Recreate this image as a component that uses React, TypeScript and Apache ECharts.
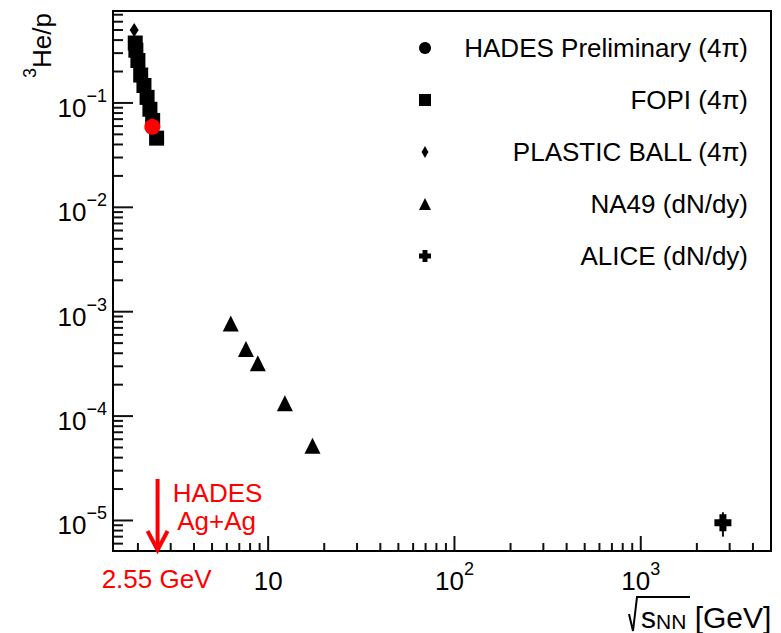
import React, { useEffect, useRef } from 'react';
import * as echarts from 'echarts';

const FONT = '"Liberation Sans", Arial, Helvetica, sans-serif';
const RED = '#ff0000';
const INK = '#111111';

// axis ranges
const X_MIN = 1.47;
const X_MAX = 5000;
const Y_MIN = 5.1e-6;
const Y_MAX = 0.76;

// data (sqrt(s_NN) in GeV, 3He/p ratio)
const fopiX = [1.935, 1.95, 2.0, 2.07, 2.155, 2.24, 2.32, 2.40, 2.52];
const fopiY = [0.375, 0.32, 0.255, 0.185, 0.147, 0.113, 0.087, 0.068, 0.046];
const plasticX = [1.91];
const plasticY = [0.5];
const hadesX = [2.39];
const hadesY = [0.059];
const na49X = [6.3, 7.6, 8.8, 12.3, 17.3];
const na49Y = [7.7e-4, 4.4e-4, 3.2e-4, 1.33e-4, 5.2e-5];
const aliceX = [2760];
const aliceY = [9.5e-6];
const aliceLo = [7.0e-6];
const aliceHi = [1.2e-5];

// annotation arrow
const arrowX = [2.55];
const arrowTopY = [2.5e-5];
const arrowLabels = ['HADES', 'Ag+Ag'];
const arrowEnergyLabel = '2.55 GeV';

// ticks
const xMajorTicks = [10, 100, 1000];
const xTickSup = ['', '2', '3'];
const yMajorTicks = [1e-5, 1e-4, 1e-3, 1e-2, 1e-1];
const yTickSup = ['\u22125', '\u22124', '\u22123', '\u22122', '\u22121'];
const minorMultipliers = [2, 3, 4, 5, 6, 7, 8, 9];
const xDecades = [1, 10, 100, 1000];
const yDecades = [1e-6, 1e-5, 1e-4, 1e-3, 1e-2, 1e-1];

const legendNames = [
  'HADES Preliminary (4\u03c0)',
  'FOPI (4\u03c0)',
  'PLASTIC BALL (4\u03c0)',
  'NA49 (dN/dy)',
  'ALICE (dN/dy)',
];

const CROSS = 'path://M5,0H12V5H17V12H12V17H5V12H0V5H5Z';
const DIAMOND = 'path://M4,0L8,7L4,14L0,7Z';

const zip = (xs: number[], ys: number[]) => xs.map((x, i) => [x, ys[i]]);

const xMinorTicks = xDecades
  .flatMap((d) => minorMultipliers.map((m) => m * d))
  .filter((v) => v > X_MIN && v < X_MAX);
const yMinorTicks = yDecades
  .flatMap((d) => minorMultipliers.map((m) => m * d))
  .filter((v) => v > Y_MIN && v < Y_MAX);

const labelRich = {
  b: { fontSize: 26, lineHeight: 34, verticalAlign: 'bottom', fontFamily: FONT, fill: '#000' },
  s: { fontSize: 18, lineHeight: 18, verticalAlign: 'top', fontFamily: FONT, fill: '#000' },
};

const GRID = {
  left: 113,
  top: 11,
  width: 658,
  height: 540,
  show: true,
  borderColor: '#000',
  borderWidth: 2,
  backgroundColor: 'transparent',
};
const axisBase = {
  type: 'log',
  logBase: 10,
  axisLine: { show: false },
  axisTick: { show: false },
  axisLabel: { show: false },
  splitLine: { show: false },
};

const titleGraphics = [
  {
    type: 'text',
    x: 38,
    y: 13,
    rotation: Math.PI / 2,
    style: {
      text: '{s|3}{b|He/p}',
      rich: labelRich,
      align: 'right',
      verticalAlign: 'middle',
      fill: '#000',
    },
  },
  {
    type: 'polyline',
    shape: { points: [[629, 614], [633, 631], [637, 597], [690, 597]] },
    style: { stroke: '#000', lineWidth: 2, fill: null },
  },
  {
    type: 'text',
    x: 641,
    y: 610,
    style: {
      text: '{b|s}{n|NN}{b| [GeV]}',
      rich: {
        b: { fontSize: 30, lineHeight: 44, verticalAlign: 'bottom', fontFamily: FONT, fill: '#000' },
        n: { fontSize: 21, lineHeight: 21, verticalAlign: 'bottom', fontFamily: FONT, fill: '#000' },
      },
      align: 'left',
      verticalAlign: 'middle',
      fill: '#000',
    },
  },
];

const tickLine = (pts: number[][]) => ({
  type: 'polyline',
  shape: { points: pts },
  style: { stroke: INK, lineWidth: 2, fill: null },
});

export default function App() {
  const ref = useRef<HTMLDivElement>(null);

  useEffect(() => {
    if (!ref.current) return;
    const chart = echarts.init(ref.current, null, { renderer: 'svg' });

    const xAxis = { ...axisBase, min: X_MIN, max: X_MAX };
    const yAxis = { ...axisBase, min: Y_MIN, max: Y_MAX };

    // set up the axes first so that their scales can place the tick labels
    chart.setOption({ animation: false, grid: GRID, xAxis, yAxis, series: [] });
    const px = (v: number) => chart.convertToPixel({ xAxisIndex: 0 }, v) as number;
    const py = (v: number) => chart.convertToPixel({ yAxisIndex: 0 }, v) as number;
    const x0 = px(X_MIN);
    const y0 = py(Y_MIN);

    const labelEls: any[] = [];
    xMajorTicks.forEach((v, i) => {
      const sup = xTickSup[i];
      labelEls.push({
        type: 'text',
        x: px(v),
        y: y0 + 26,
        style: {
          text: sup ? `{b|10}{s|${sup}}` : '{b|10}',
          rich: labelRich,
          align: 'center',
          verticalAlign: 'middle',
          fill: '#000',
        },
      });
    });
    yMajorTicks.forEach((v, i) => {
      labelEls.push({
        type: 'text',
        x: x0 - 6,
        y: py(v) + 1,
        style: {
          text: `{b|10}{s|${yTickSup[i]}}`,
          rich: labelRich,
          align: 'right',
          verticalAlign: 'middle',
          fill: '#000',
        },
      });
    });

    const option: any = {
      animation: false,
      backgroundColor: '#fff',
      grid: GRID,
      xAxis,
      yAxis,
      legend: {
        orient: 'vertical',
        left: 419,
        top: 35,
        padding: 0,
        itemWidth: 12,
        itemHeight: 12,
        itemGap: 26,
        selectedMode: false,
        data: [
          { name: legendNames[0], icon: 'circle', itemStyle: { color: '#000', opacity: 1 } },
          { name: legendNames[1], icon: 'rect' },
          { name: legendNames[2], icon: DIAMOND },
          { name: legendNames[3], icon: 'triangle' },
          { name: legendNames[4], icon: CROSS },
        ],
        formatter: (name: string) => `{a|${name}}`,
        textStyle: {
          rich: {
            a: {
              width: 312,
              align: 'right',
              fontSize: 26,
              lineHeight: 26,
              fontFamily: FONT,
              color: '#000',
            },
          },
        },
      },
      graphic: [...titleGraphics, ...labelEls],
      series: [
        {
          name: legendNames[2],
          type: 'scatter',
          symbol: 'diamond',
          symbolSize: [9, 14],
          itemStyle: { color: '#000', opacity: 1 },
          data: zip(plasticX, plasticY),
          z: 2,
        },
        {
          name: legendNames[1],
          type: 'scatter',
          symbol: 'rect',
          symbolSize: 15,
          itemStyle: { color: '#000', opacity: 1 },
          data: zip(fopiX, fopiY),
          z: 3,
        },
        {
          name: legendNames[3],
          type: 'scatter',
          symbol: 'triangle',
          symbolSize: 16,
          itemStyle: { color: '#000', opacity: 1 },
          data: zip(na49X, na49Y),
          z: 3,
        },
        {
          type: 'custom',
          coordinateSystem: 'cartesian2d',
          silent: true,
          clip: false,
          data: aliceX.map((x, i) => [x, aliceLo[i], aliceHi[i]]),
          encode: { x: 0, y: [1, 2] },
          renderItem: (params: any, api: any) => {
            const lo = api.coord([api.value(0), api.value(1)]);
            const hi = api.coord([api.value(0), api.value(2)]);
            return tickLine([[lo[0], lo[1]], [hi[0], hi[1]]]);
          },
          z: 3,
        },
        {
          name: legendNames[4],
          type: 'scatter',
          symbol: CROSS,
          symbolSize: 17,
          itemStyle: { color: '#000', opacity: 1 },
          data: zip(aliceX, aliceY),
          z: 4,
        },
        {
          name: legendNames[0],
          type: 'scatter',
          symbol: 'circle',
          symbolSize: 16,
          itemStyle: { color: RED, opacity: 1 },
          data: zip(hadesX, hadesY),
          z: 5,
        },
        // annotation arrow, together with the axis ticks (all through api.coord)
        {
          type: 'custom',
          coordinateSystem: 'cartesian2d',
          silent: true,
          clip: false,
          data: arrowX.map((x, i) => [x, arrowTopY[i]]),
          encode: { x: 0, y: 1 },
          renderItem: (params: any, api: any) => {
            const top = api.coord([api.value(0), api.value(1)]);
            const bot = api.coord([api.value(0), Y_MIN]);
            const txt = (t: string, x: number, y: number) => ({
              type: 'text',
              x,
              y,
              style: {
                text: t,
                fill: RED,
                fontSize: 26,
                fontFamily: FONT,
                align: 'center',
                verticalAlign: 'middle',
              },
            });
            const children: any[] = [
              {
                type: 'line',
                shape: { x1: top[0], y1: top[1], x2: bot[0], y2: bot[1] - 3 },
                style: { stroke: RED, lineWidth: 4 },
              },
              {
                type: 'polyline',
                shape: {
                  points: [
                    [bot[0] - 10, bot[1] - 20],
                    [bot[0], bot[1] - 1],
                    [bot[0] + 10, bot[1] - 20],
                  ],
                },
                style: { stroke: RED, lineWidth: 4, fill: null },
              },
              txt(arrowLabels[0], top[0] + 60, top[1] + 14),
              txt(arrowLabels[1], top[0] + 59, top[1] + 42),
              txt(arrowEnergyLabel, bot[0] - 1, bot[1] + 28),
            ];
            const xt = (v: number, len: number) => {
              const p = api.coord([v, Y_MIN]);
              children.push(tickLine([[p[0], p[1] - 1], [p[0], p[1] - len]]));
            };
            const yt = (v: number, len: number) => {
              const p = api.coord([X_MIN, v]);
              children.push(tickLine([[p[0] + 1, p[1]], [p[0] + len, p[1]]]));
            };
            xMinorTicks.forEach((v) => xt(v, 8));
            xMajorTicks.forEach((v) => xt(v, 15));
            yMinorTicks.forEach((v) => yt(v, 10));
            yMajorTicks.forEach((v) => yt(v, 20));
            return { type: 'group', children };
          },
          z: 7,
        },
      ],
    };

    chart.setOption(option, true);
    return () => chart.dispose();
  }, []);

  return (
    <div
      ref={ref}
      style={{ position: 'fixed', left: 0, top: 0, width: 781, height: 633, background: '#fff' }}
    />
  );
}
